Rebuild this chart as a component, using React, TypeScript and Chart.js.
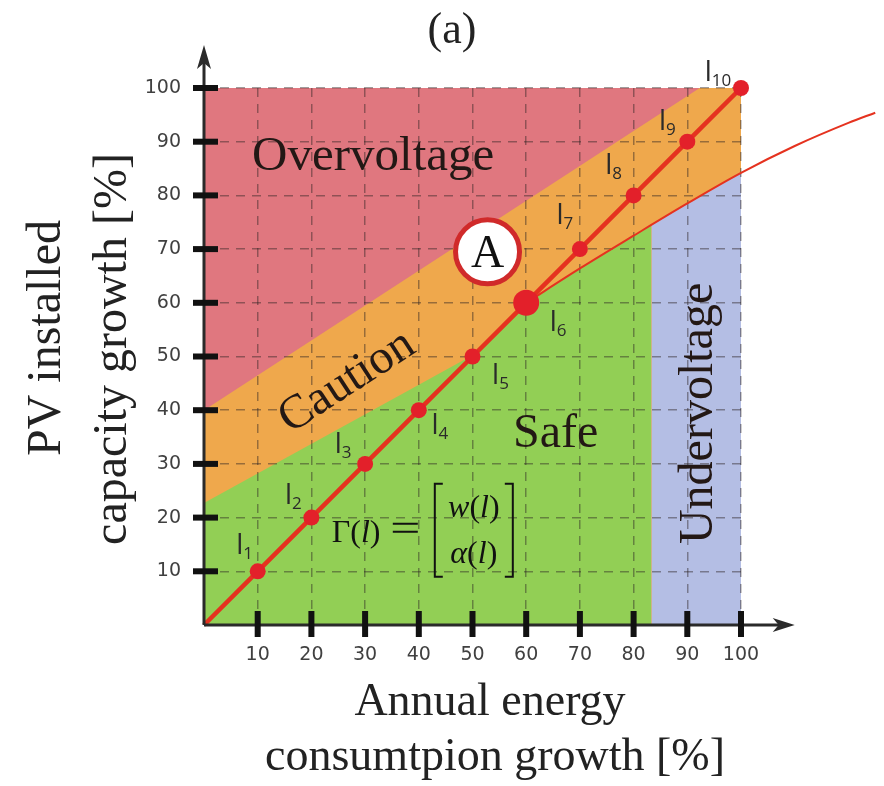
import { useEffect, useRef } from 'react';
import { Chart, registerables } from 'chart.js';

Chart.register(...registerables);

// ---------- data ----------
const tickValues = [10, 20, 30, 40, 50, 60, 70, 80, 90, 100];

// trajectory l1..l10 (starts at origin)
const pathX = [0, 10, 20, 30, 40, 50, 60, 70, 80, 90, 100];
const pathY = [0, 10, 20, 30, 40, 50, 60, 70, 80, 90, 100];
const pathSubscripts = ['', '1', '2', '3', '4', '5', '6', '7', '8', '9', '10'];
const highlightedX = 60;

// thin limit curve leaving the plot
const curveX = [60, 70, 80, 90, 100, 110, 120, 125];
const curveY = [60, 66.4, 72.5, 78.5, 84.2, 89.2, 93.5, 95.4];

// region boundaries
const overX = [0, 100];
const overY = [100, 100];
const cautionX = [0, 92.3, 100];
const cautionY = [40, 100, 100];
const safeX = [0, 50.5, 60, 70, 80, 83.3];
const safeY = [22.7, 50.5, 60, 66.4, 72.5, 74.5];
const underX = [83.3, 90, 100];
const underY = [74.5, 78.5, 84.2];

// point A
const pointAX = [52.8];
const pointAY = [69.5];

const regionLabels = ['Overvoltage', 'Caution', 'Safe', 'Undervoltage'];
const titleText = '(a)';
const yTitleLines = ['PV installed', 'capacity growth [%]'];
const xTitleLines = ['Annual energy', 'consumtpion growth [%]'];

// ---------- styles ----------
const SERIF = '"Liberation Serif", "Times New Roman", serif';
const SANS = '"DejaVu Sans", Verdana, sans-serif';
const COL_OVER = '#e0777f';
const COL_CAUTION = '#efa84c';
const COL_SAFE = '#92cf55';
const COL_UNDER = '#b4bee4';
const COL_RED = '#e5321f';
const COL_POINT = '#e3202a';
const TEXT_DARK = '#231815';
// pixel offsets of the l_k labels relative to their points
const LABEL_OFFSETS: [number, number][] = [
  [0, 0], [-13, -26], [-18, -23], [-22, -20], [21, 15], [28, 18],
  [32, 19], [-15, -34], [-20, -30], [-20, -21], [-23, -16],
];

const toPts = (xs: number[], ys: number[]) => xs.map((x, i) => ({ x, y: ys[i] }));

export default function App() {
  const ref = useRef<HTMLCanvasElement>(null);

  useEffect(() => {
    const canvas = ref.current;
    if (!canvas) return;

    const annotate = {
      id: 'annotate',
      afterDraw(chart: any) {
        const ctx: CanvasRenderingContext2D = chart.ctx;
        const xs = chart.scales.x;
        const ys = chart.scales.y;
        const X = (v: number) => xs.getPixelForValue(v);
        const Y = (v: number) => ys.getPixelForValue(v);
        const x0 = X(0);
        const y0 = Y(0);

        ctx.save();
        // axes with arrows
        ctx.strokeStyle = '#2a2a2a';
        ctx.fillStyle = '#2a2a2a';
        ctx.lineWidth = 3;
        const xTip = X(110);
        const yTip = Y(108);
        ctx.beginPath();
        ctx.moveTo(x0, y0);
        ctx.lineTo(xTip - 10, y0);
        ctx.moveTo(x0, y0);
        ctx.lineTo(x0, yTip + 10);
        ctx.stroke();
        ctx.beginPath();
        ctx.moveTo(xTip, y0);
        ctx.lineTo(xTip - 22, y0 - 7);
        ctx.lineTo(xTip - 16, y0);
        ctx.lineTo(xTip - 22, y0 + 7);
        ctx.closePath();
        ctx.fill();
        ctx.beginPath();
        ctx.moveTo(x0, yTip);
        ctx.lineTo(x0 - 7, yTip + 24);
        ctx.lineTo(x0, yTip + 18);
        ctx.lineTo(x0 + 7, yTip + 24);
        ctx.closePath();
        ctx.fill();

        // thick tick marks
        ctx.fillStyle = '#111';
        for (const t of xs.ticks) {
          if (t.value === 0) continue;
          const px = X(t.value);
          ctx.fillRect(px - 3, y0 - 14, 6, 26);
        }
        for (const t of ys.ticks) {
          if (t.value === 0) continue;
          const py = Y(t.value);
          ctx.fillRect(x0 - 11, py - 3, 25, 6);
        }

        // point labels l_k
        ctx.fillStyle = '#2a2a2a';
        ctx.textAlign = 'left';
        ctx.textBaseline = 'alphabetic';
        const lFont = `28px "Open Sans", ${SANS}`;
        const subFont = `17px "Open Sans", ${SANS}`;
        pathX.forEach((vx, i) => {
          const sub = pathSubscripts[i];
          if (!sub) return;
          const [dx, dy] = LABEL_OFFSETS[i];
          const cx = X(vx) + dx;
          const cy = Y(pathY[i]) + dy;
          ctx.font = lFont;
          const wl = ctx.measureText('l').width;
          ctx.font = subFont;
          const ws = ctx.measureText(sub).width;
          const left = cx - (wl + ws) / 2;
          const base = cy + 9;
          ctx.font = lFont;
          ctx.fillText('l', left, base);
          ctx.font = subFont;
          ctx.fillText(sub, left + wl, base + 5);
        });

        // A marker letter
        ctx.fillStyle = '#111';
        ctx.font = `46px ${SERIF}`;
        ctx.textAlign = 'center';
        ctx.fillText('A', X(pointAX[0]), Y(pointAY[0]) + 15);

        // region labels
        ctx.fillStyle = TEXT_DARK;
        ctx.font = `49px ${SERIF}`;
        ctx.textAlign = 'center';
        ctx.fillText(regionLabels[0], X(31.5), Y(84.7));
        ctx.font = `48px ${SERIF}`;
        ctx.fillText(regionLabels[2], X(65.5), Y(33.1));
        ctx.save();
        ctx.translate(X(26.3), Y(45.8));
        ctx.rotate(-Math.atan(0.65));
        ctx.fillText(regionLabels[1], 0, 16);
        ctx.restore();
        ctx.save();
        ctx.translate(X(94.6), Y(39.4));
        ctx.rotate(-Math.PI / 2);
        ctx.fillText(regionLabels[3], 0, 0);
        ctx.restore();

        // formula Γ(l) = [w(l); α(l)]
        ctx.fillStyle = '#111';
        ctx.textAlign = 'left';
        const fUp = `32px ${SERIF}`;
        const fIt = `italic 32px ${SERIF}`;
        const runs = (x: number, y: number, parts: [string, string][]) => {
          let cx = x;
          for (const [t, f] of parts) {
            ctx.font = f;
            ctx.fillText(t, cx, y);
            cx += ctx.measureText(t).width;
          }
          return cx;
        };
        const measure = (parts: [string, string][]) => {
          let w = 0;
          for (const [t, f] of parts) {
            ctx.font = f;
            w += ctx.measureText(t).width;
          }
          return w;
        };
        const fx = X(23.8);
        const fy = Y(15.5);
        runs(fx, fy, [['Γ(', fUp], ['l', fIt], [')', fUp]]);
        // equals sign
        ctx.strokeStyle = '#111';
        ctx.lineWidth = 1.8;
        ctx.beginPath();
        ctx.moveTo(fx + 61, fy - 18);
        ctx.lineTo(fx + 86, fy - 18);
        ctx.moveTo(fx + 61, fy - 10);
        ctx.lineTo(fx + 86, fy - 10);
        ctx.stroke();
        const bl = fx + 103;
        const br = bl + 78;
        const bt = fy - 58;
        const bb = fy + 35;
        ctx.lineWidth = 2;
        ctx.beginPath();
        ctx.moveTo(bl + 8, bt);
        ctx.lineTo(bl, bt);
        ctx.lineTo(bl, bb);
        ctx.lineTo(bl + 8, bb);
        ctx.moveTo(br - 8, bt);
        ctx.lineTo(br, bt);
        ctx.lineTo(br, bb);
        ctx.lineTo(br - 8, bb);
        ctx.stroke();
        const row1: [string, string][] = [['w', fIt], ['(', fUp], ['l', fIt], [')', fUp]];
        const row2: [string, string][] = [['α', fIt], ['(', fUp], ['l', fIt], [')', fUp]];
        const mc = (bl + br) / 2;
        runs(mc - measure(row1) / 2, fy - 25, row1);
        runs(mc - measure(row2) / 2, fy + 21, row2);

        // title
        ctx.fillStyle = '#222';
        ctx.textAlign = 'center';
        ctx.font = `44px ${SERIF}`;
        ctx.fillText(titleText, 452, 43);

        // axis titles
        ctx.font = `46px ${SERIF}`;
        ctx.fillText(xTitleLines[0], 490, 715);
        ctx.fillText(xTitleLines[1], 495, 770);
        ctx.font = `48px ${SERIF}`;
        ctx.save();
        ctx.translate(60, 338);
        ctx.rotate(-Math.PI / 2);
        ctx.fillText(yTitleLines[0], 0, 0);
        ctx.restore();
        ctx.save();
        ctx.translate(126, 349);
        ctx.rotate(-Math.PI / 2);
        ctx.fillText(yTitleLines[1], 0, 0);
        ctx.restore();

        ctx.restore();
      },
    };

    const regionDs = (data: { x: number; y: number }[], color: string, order: number) => ({
      data,
      showLine: true,
      fill: 'origin',
      backgroundColor: color,
      borderColor: 'transparent',
      borderWidth: 0,
      pointRadius: 0,
      order,
    });

    const chart = new Chart(canvas, {
      type: 'scatter',
      data: {
        datasets: [
          regionDs(toPts(overX, overY), COL_OVER, 100) as any,
          regionDs(toPts(cautionX, cautionY), COL_CAUTION, 90) as any,
          regionDs(toPts(safeX, safeY), COL_SAFE, 80) as any,
          regionDs(toPts(underX, underY), COL_UNDER, 80) as any,
          {
            // given right-to-left so Chart.js keeps the part beyond x = 100
            data: toPts(curveX, curveY).reverse(),
            showLine: true,
            borderColor: COL_RED,
            borderWidth: 2,
            pointRadius: 0,
            cubicInterpolationMode: 'monotone',
            clip: false,
            order: 3,
          } as any,
          {
            data: toPts(pathX, pathY),
            showLine: true,
            borderColor: COL_RED,
            borderWidth: 4.5,
            pointRadius: pathX.map((v, i) => (i === 0 ? 0 : v === highlightedX ? 13 : 8)),
            pointBackgroundColor: COL_POINT,
            pointBorderWidth: 0,
            clip: false,
            order: 2,
          } as any,
          {
            data: toPts(pointAX, pointAY),
            pointRadius: 32,
            pointBackgroundColor: '#ffffff',
            pointBorderColor: '#d02a2a',
            pointBorderWidth: 5,
            clip: false,
            order: 1,
          } as any,
        ],
      },
      options: {
        responsive: false,
        animation: false,
        events: [],
        layout: { padding: { top: 88, right: 143, left: 0, bottom: 0 } },
        plugins: {
          legend: { display: false },
          tooltip: { enabled: false },
          title: { display: false },
          filler: { drawTime: 'beforeDraw', propagate: false },
        } as any,
        scales: {
          x: {
            type: 'linear',
            min: 0,
            max: 100,
            afterFit: (s: any) => {
              s.height = 161;
            },
            afterBuildTicks: (s: any) => {
              s.ticks = [0, ...tickValues].map((v) => ({ value: v }));
            },
            grid: { color: 'rgba(45,35,35,0.45)', lineWidth: 1.5, drawTicks: false },
            border: { display: false, dash: [9, 7] },
            ticks: {
              padding: 19,
              color: '#404040',
              font: { family: SANS, size: 19 },
              callback: (v: any) => (v === 0 ? '' : String(v)),
            },
          },
          y: {
            type: 'linear',
            min: 0,
            max: 100,
            afterFit: (s: any) => {
              s.width = 204;
            },
            afterBuildTicks: (s: any) => {
              s.ticks = [0, ...tickValues].map((v) => ({ value: v }));
            },
            grid: { color: 'rgba(45,35,35,0.45)', lineWidth: 1.5, drawTicks: false },
            border: { display: false, dash: [9, 7] },
            ticks: {
              padding: 23,
              color: '#404040',
              font: { family: SANS, size: 19 },
              callback: (v: any) => (v === 0 ? '' : String(v)),
            },
          },
        } as any,
      },
      plugins: [annotate],
    });

    return () => chart.destroy();
  }, []);

  return (
    <div style={{ position: 'fixed', left: 0, top: 0, width: 884, height: 786, background: '#ffffff' }}>
      <canvas ref={ref} width={884} height={786} style={{ display: 'block', width: 884, height: 786 }} />
    </div>
  );
}
